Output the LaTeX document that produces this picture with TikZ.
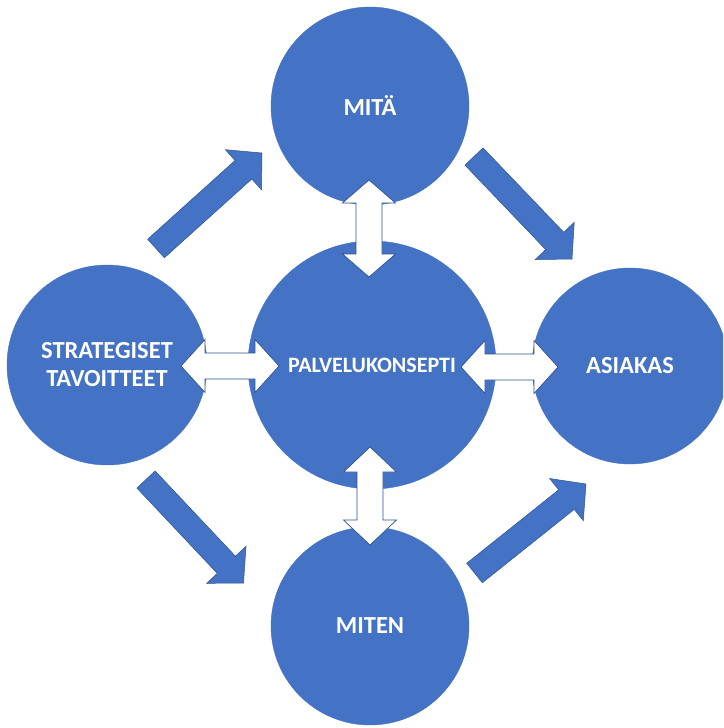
\documentclass[tikz,border=0pt]{standalone}
\usepackage{fontspec}
\setmainfont{Carlito}
\usetikzlibrary{calc}
\definecolor{obl}{HTML}{4472C4}
\definecolor{oline}{HTML}{2F528F}
\newcommand{\blockarr}[2]{%
  \coordinate (bm) at ($(#2)!25pt!(#1)$);
  \draw[barrow] ($(#1)!12.5pt!90:(#2)$) -- ($(bm)!12.5pt!90:(#2)$) -- ($(bm)!27pt!90:(#2)$) -- (#2)
    -- ($(bm)!27pt!-90:(#2)$) -- ($(bm)!12.5pt!-90:(#2)$) -- ($(#1)!12.5pt!-90:(#2)$) -- cycle;}
\newcommand{\dblarr}[3]{%
  \coordinate (da) at ($(#1)!#3pt!(#2)$);
  \coordinate (db) at ($(#2)!#3pt!(#1)$);
  \draw[warrow] (#1) -- ($(da)!26.5pt!90:(#2)$) -- ($(da)!13pt!90:(#2)$) -- ($(db)!13pt!90:(#2)$)
    -- ($(db)!26.5pt!90:(#2)$) -- (#2) -- ($(db)!26.5pt!-90:(#2)$) -- ($(db)!13pt!-90:(#2)$)
    -- ($(da)!13pt!-90:(#2)$) -- ($(da)!26.5pt!-90:(#2)$) -- cycle;}
\begin{document}
\begin{tikzpicture}[x=1pt,y=-1pt,
  circ/.style={circle,fill=obl,draw=obl,inner sep=0pt,text=white,font=\bfseries\fontsize{24.5}{28}\selectfont,align=center},
  barrow/.style={fill=obl,draw=oline,line width=0.5pt,line join=miter},
  warrow/.style={fill=white,draw=oline,line width=0.7pt,line join=miter}]
\clip (0,0) rectangle (723,728);
\fill[white] (0,0) rectangle (723,728);
\node[circ,minimum size=198pt] (mita) at (370,106) {MITÄ};
\node[circ,minimum size=248pt,font=\bfseries\fontsize{22}{26}\selectfont] (palv) at (372,365) {PALVELUKONSEPTI};
\node[circ,minimum size=200pt] (strat) at (107,365) {STRATEGISET\\TAVOITTEET};
\node[circ,minimum size=196pt] (asiak) at (630,366) {ASIAKAS};
\node[circ,minimum size=198pt] (miten) at (370,626) {MITEN};
% blue block arrows
\coordinate (t1) at (156,248.5); \coordinate (h1) at (262,153);
\coordinate (t2) at (474,156.5); \coordinate (h2) at (572,259);
\coordinate (t3) at (146,479.5); \coordinate (h3) at (243.5,583);
\coordinate (t4) at (474.5,573); \coordinate (h4) at (586,484);
\blockarr{t1}{h1}
\blockarr{t2}{h2}
\blockarr{t3}{h3}
\blockarr{t4}{h4}
% white double arrows
\coordinate (va1) at (369,180); \coordinate (vb1) at (369,277);
\coordinate (va2) at (370,447); \coordinate (vb2) at (370,545);
\coordinate (ha1) at (181,366); \coordinate (hb1) at (279,366);
\coordinate (ha2) at (461,367); \coordinate (hb2) at (558,367);
\dblarr{va1}{vb1}{23}
\dblarr{va2}{vb2}{25}
\dblarr{ha1}{hb1}{24}
\dblarr{ha2}{hb2}{24}
\end{tikzpicture}
\end{document}
